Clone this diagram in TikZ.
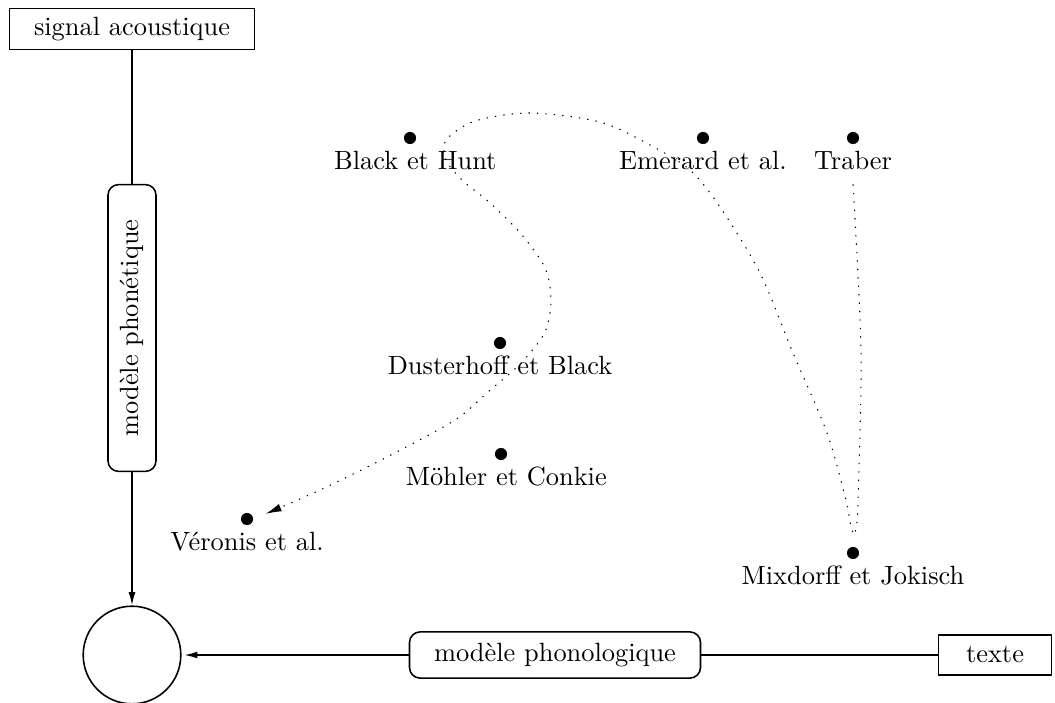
\documentclass[tikz,border=0pt]{standalone}
\usepackage{tikz}
\usetikzlibrary{positioning,arrows.meta}
\begin{document}
\begin{tikzpicture}
[
    x=0.01332cm, y=-0.01332cm,
    box/.style={draw, semithick, minimum height=14.5pt, inner xsep=9.3pt},
    rbox/.style={draw, semithick, rounded corners=4pt, minimum height=17.5pt, inner xsep=9.3pt},
    dot/.style={circle, fill, inner sep=0pt, minimum size=4.6pt},
    lbl/.style={inner sep=3.33pt},
    trace/.style={dash pattern=on 0.5pt off 2.7pt},
]
\useasboundingbox (0,0) rectangle (1055,702);
\node [box] (sig) at (132,29) {signal acoustique};
\node [rbox, rotate=90, minimum width=108.7pt, minimum height=18.2pt] (phon) at (132,328) {modèle phonétique};
\node [draw, semithick, circle, minimum size=37pt] (synth) at (132,655) {};
\node [rbox] (phonol) at (555,655) {modèle phonologique};
\node [box, minimum height=15.2pt, inner xsep=10.5pt] (txt) at (995,655) {texte};
\node [dot] (bh) at (410,138) {};
\node [lbl, below=-1pt of bh, xshift=2pt] (bhl) {Black et Hunt};
\node [dot] (em) at (703,138) {};
\node [lbl, below=-1pt of em] (eml) {Emerard et al.};
\node [dot] (tr) at (853,138) {};
\node [lbl, below=-1pt of tr] (trl) {Traber};
\node [dot] (db) at (500,343) {};
\node [lbl, below=-1pt of db] (dbl) {Dusterhoff et Black};
\node [dot] (mc) at (501,454) {};
\node [lbl, below=-1pt of mc, xshift=2pt] (mcl) {Möhler et Conkie};
\node [dot] (ve) at (247,519) {};
\node [lbl, below=-1pt of ve] (vel) {Véronis et al.};
\node [dot] (mj) at (853,553) {};
\node [lbl, below=-1pt of mj] (mjl) {Mixdorff et Jokisch};
\draw [semithick, -{Latex[length=5pt,width=2.6pt]}] (phon) -- (synth);
\draw [semithick] (sig) -- (phon);
\draw [semithick, -{Latex[length=5pt,width=2.6pt]}, shorten >=1pt] (phonol) -- (synth);
\draw [semithick] (txt) -- (phonol);
\draw [trace, -{Latex[length=6pt,width=3pt]}, shorten >=5pt] plot [smooth] coordinates {
    ([yshift=-2pt]trl.south) (861,350) (858,500) (857,522) (854,535) (850,522)
    (846,500) (827,433) (793,353) (760,273) (720,207) (690,170) (650,145)
    (600,122) (530,113) (475,121) (446,140) (446,160) (462,180) (490,203)
    (522,235) (545,268) (551,300) (545,332) (522,362) (488,392) (455,420)
    (387,457) (320,490) (ve.east)};
\end{tikzpicture}
\end{document}
